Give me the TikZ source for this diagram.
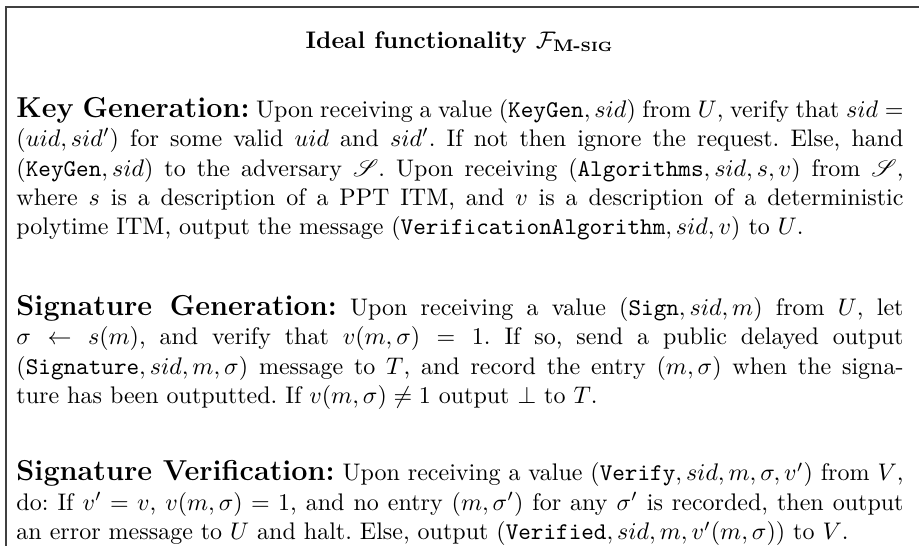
\documentclass[tikz,border=0pt]{standalone}
\usepackage{amsmath,amssymb}
\usepackage{mathrsfs}
\begin{document}
\begin{tikzpicture}[x=1pt,y=1pt,
  para/.style={anchor=base west, inner sep=0pt, text width=369.6pt, align=justify,
    font=\fontsize{10}{12.29}\selectfont\frenchspacing},
  frameline/.style={line width=0.5pt, draw=black!75}]
\useasboundingbox (0,0) rectangle (382.9,-227.5);
\draw[frameline] (382.9,-2.92) -- (2.5,-2.92) -- (2.5,-227.5);
\node[anchor=base, inner sep=0pt, font=\fontsize{10}{12}\selectfont\bfseries] (title) at (191.5,-20)
  {Ideal functionality $\mathcal{F}_{\text{\bfseries M-{\fontsize{5.6}{6}\selectfont SIG}}}$};
\node[para] (kg) at (6.67,-48.75) {{\large\bfseries Key Generation:} Upon receiving a value $(\texttt{KeyGen}, sid)$ from $U$, verify that $sid =$\linebreak
$(uid, sid')$ for some valid $uid$ and $sid'$. If not then ignore the request. Else, hand\linebreak
$(\texttt{KeyGen}, sid)$ to the adversary $\mathscr{S}$. Upon receiving $(\texttt{Algorithms}, sid, s, v)$ from $\mathscr{S}$,\linebreak
where $s$ is a description of a PPT ITM, and $v$ is a description of a deterministic\linebreak
polytime ITM, output the message $(\texttt{VerificationAlgorithm}, sid, v)$ to $U$.};
\node[para] (sg) at (6.67,-131.25) {{\large\bfseries Signature Generation:} Upon receiving a value $(\texttt{Sign}, sid, m)$ from $U$, let\linebreak
$\sigma \leftarrow s(m)$, and verify that $v(m, \sigma) = 1$. If so, send a public delayed output\linebreak
$(\texttt{Signature}, sid, m, \sigma)$ message to $T$, and record the entry $(m, \sigma)$ when the signa-\linebreak
ture has been outputted. If $v(m, \sigma) \neq 1$ output $\perp$ to $T$.};
\node[para] (sv) at (6.67,-200.4) {{\large\bfseries Signature Verification:} Upon receiving a value $(\texttt{Verify}, sid, m, \sigma, v')$ from $V$,\linebreak
do: If $v' = v$, $v(m, \sigma) = 1$, and no entry $(m, \sigma')$ for any $\sigma'$ is recorded, then output\linebreak
an error message to $U$ and halt. Else, output $(\texttt{Verified}, sid, m, v'(m, \sigma))$ to $V$.};
\end{tikzpicture}
\end{document}
